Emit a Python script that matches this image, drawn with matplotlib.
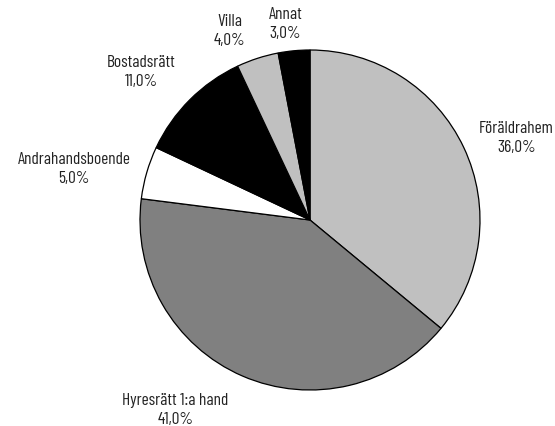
import numpy as np
import matplotlib
matplotlib.use("Agg")
import matplotlib.pyplot as plt

labels = ["Föräldrahem", "Hyresrätt 1:a hand", "Andrahandsboende", "Bostadsrätt", "Villa", "Annat"]
values = [36.0, 41.0, 5.0, 11.0, 4.0, 3.0]
colors = ["#c0c0c0", "#808080", "#ffffff", "#000000", "#c0c0c0", "#000000"]

fam = ["Barlow Condensed", "DejaVu Sans"]

fig = plt.figure(figsize=(5.55, 4.27), dpi=100)
W, H = 555, 427
cx, cy, r = 310, 221, 170
ax = fig.add_axes([(cx - r) / W, (H - cy - r) / H, 2 * r / W, 2 * r / H])

wedges, _ = ax.pie(values, colors=colors, startangle=90, counterclock=False,
                   wedgeprops=dict(edgecolor="black", linewidth=0.9))
ax.set_xlim(-1, 1)
ax.set_ylim(-1, 1)
ax.set_aspect("equal")

# small pixel nudges for label placement
nudge = {"Hyresrätt 1:a hand": (-7, 0), "Villa": (-7, -5), "Annat": (10, -6),
         "Bostadsrätt": (-2, 0), "Föräldrahem": (0, 3)}
for w, l, v in zip(wedges, labels, values):
    th = np.deg2rad((w.theta1 + w.theta2) / 2)
    x, y = 1.1 * np.cos(th), 1.1 * np.sin(th)
    ha = "left" if np.cos(th) > 0 else "right"
    s = np.sin(th)
    va = "center" if abs(s) < 0.5 else ("bottom" if s > 0 else "top")
    dx, dy = nudge.get(l, (0, 0))
    x += dx / r
    y += dy / r
    ax.text(x, y, f"{l}\n{v:.1f}%".replace(".", ","), ha=ha, va=va, ma="center",
            fontfamily=fam, fontsize=12.5, color="#222222", linespacing=1.35)

fig.savefig("out.png", dpi=100)
